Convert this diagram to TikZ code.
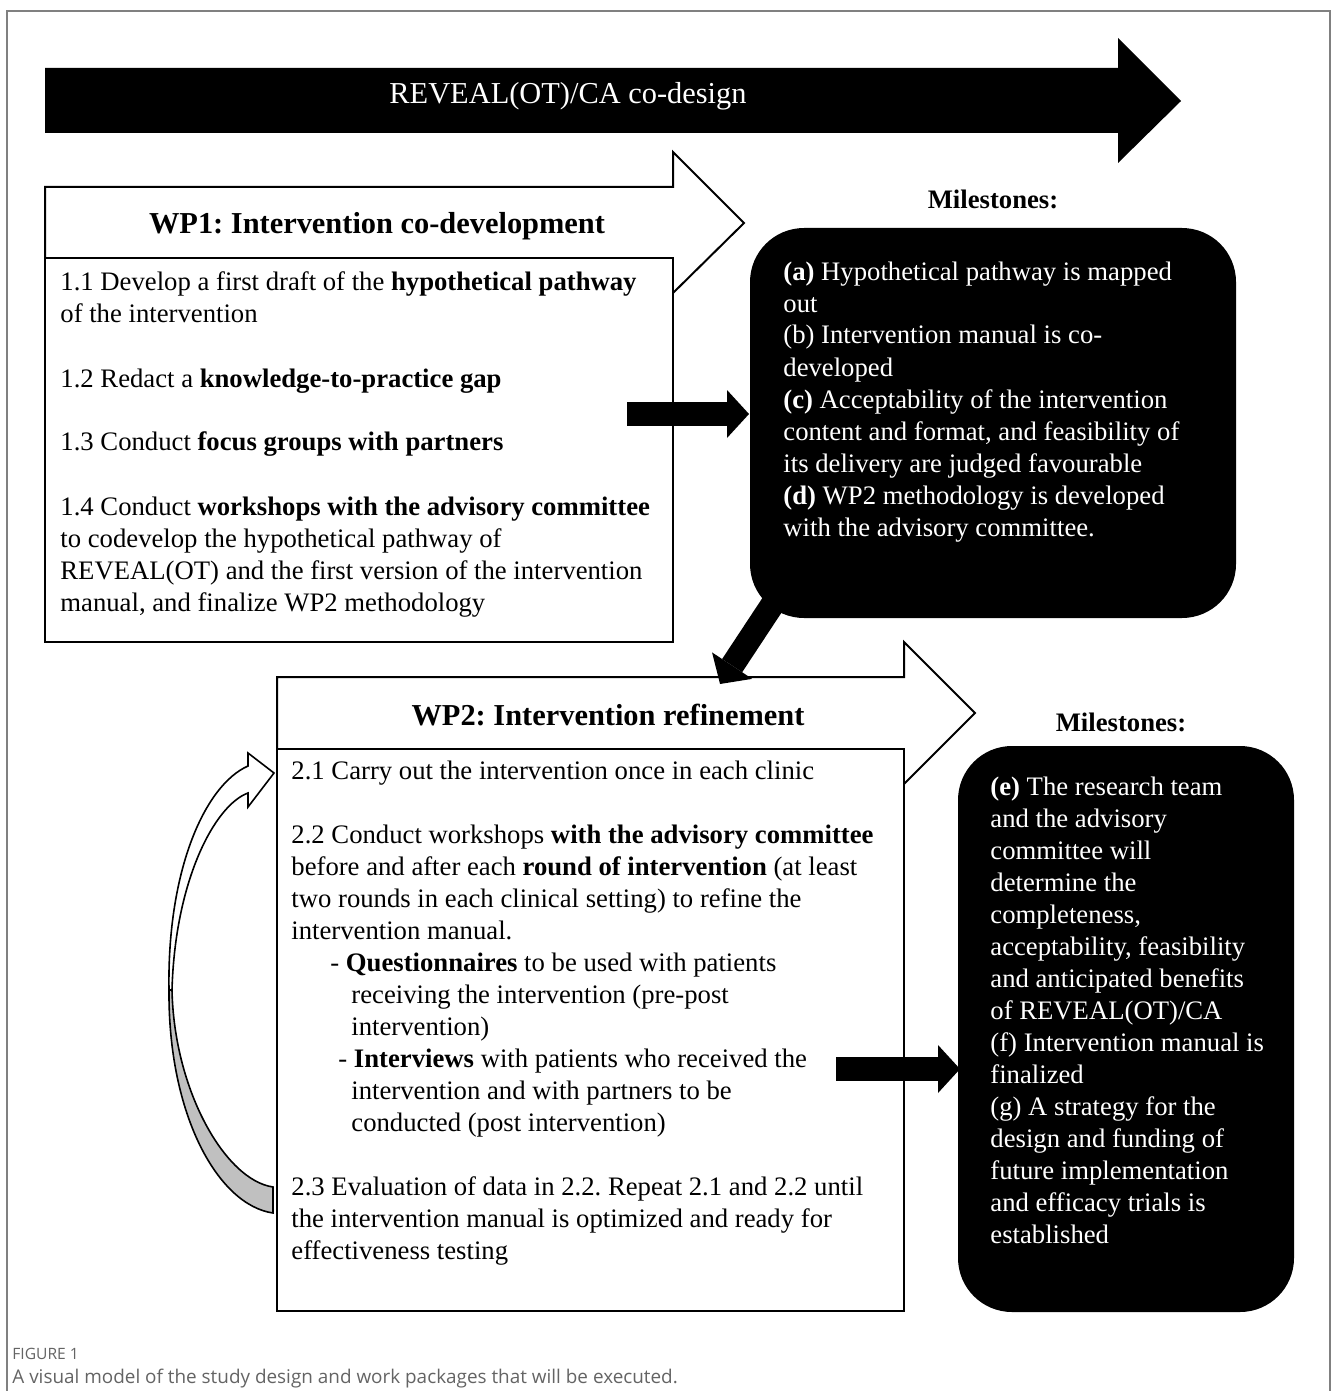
\documentclass[tikz,border=0pt]{standalone}
\usepackage{fontspec}
\setmainfont{Liberation Serif}
\newfontfamily\capfont{Open Sans}
\usetikzlibrary{arrows.meta}

\definecolor{framegray}{RGB}{128,128,128}
\definecolor{backside}{RGB}{192,192,192}
\definecolor{captext}{RGB}{100,100,100}

\begin{document}
\frenchspacing
\begin{tikzpicture}[x=0.5pt,y=-0.5pt,
	box/.style={draw,line width=1pt,fill=white,line join=miter},
	txt/.style={anchor=base west,inner sep=0pt,text width=#1,align=flush left,font=\fontsize{13.35}{16}\selectfont},
	title/.style={anchor=base,inner sep=0pt,font=\fontsize{15.2}{18}\selectfont\bfseries},
	stone/.style={fill=black,rounded corners=27pt},
	stonetxt/.style={txt=#1,text=white},
	stonehead/.style={anchor=base,inner sep=0pt,font=\fontsize{13.35}{16}\selectfont\bfseries},
	blockarrow/.style={line width=12pt,-{Triangle[length=11pt,width=24pt,line width=0pt]}}]
		\useasboundingbox (0,0) rectangle (1331,1391);
		%\draw [help lines] (0,0) grid (1331,1391);
		\draw [framegray,line width=1pt] (7,1391) -- (7,11) -- (1330,11) -- (1330,1391);
		
		% top arrow
		\fill (45,68) -- (1118,68) -- (1118,38) -- (1181,101) -- (1118,163) -- (1118,133) -- (45,133) -- cycle;
		\node [anchor=base,inner sep=0pt,text=white,font=\fontsize{15.2}{18}\selectfont] (codesign) at (568,104) {REVEAL(OT)/CA co-design};
		
		% WP1
		\draw [box] (45,258) -- (45,187) -- (673,187) -- (673,152) -- (744,223) -- (673,293);
		\draw [box] (45,258) rectangle (673,642);
		\node [title] (wp1) at (377,234) {WP1: Intervention co-development};
		\node [txt=310pt] (wp1txt) at (60,291) {1.1 Develop a first draft of the \textbf{hypothetical pathway}\\
			of the intervention\\[16pt]
			1.2 Redact a \textbf{knowledge-to-practice gap}\\[16pt]
			1.3 Conduct \textbf{focus groups with partners}\\[16pt]
			1.4 Conduct \textbf{workshops with the advisory committee}\\
			to codevelop the hypothetical pathway of\\
			REVEAL(OT) and the first version of the intervention\\
			manual, and finalize WP2 methodology};
		
		% milestones a-d
		\node [stonehead] (ms1) at (993,209) {Milestones:};
		\fill [stone] (750,228) rectangle (1236,618);
		\node [stonetxt=230pt] (ms1txt) at (783,280) {\textbf{(a)} Hypothetical pathway is mapped\\
			out\\
			(b) Intervention manual is co-\\
			developed\\
			\textbf{(c)} Acceptability of the intervention\\
			content and format, and feasibility of\\
			its delivery are judged favourable\\
			\textbf{(d)} WP2 methodology is developed\\
			with the advisory committee.};
		
		% WP2
		\draw [box] (277,749) -- (277,677) -- (904,677) -- (904,642) -- (975,713) -- (904,784);
		\draw [box] (277,749) rectangle (904,1311);
		\node [title] (wp2) at (608,725) {WP2: Intervention refinement};
		\node [txt=310pt] (wp2txt) at (291,779) {2.1 Carry out the intervention once in each clinic\\[16pt]
			2.2 Conduct workshops \textbf{with the advisory committee}\\
			before and after each \textbf{round of intervention} (at least\\
			two rounds in each clinical setting) to refine the\\
			intervention manual.\\
			\hspace*{19.5pt}- \textbf{Questionnaires} to be used with patients\\
			\hspace*{30pt}receiving the intervention (pre-post\\
			\hspace*{30pt}intervention)\\
			\hspace*{23.5pt}- \textbf{Interviews} with patients who received the\\
			\hspace*{30pt}intervention and with partners to be\\
			\hspace*{30pt}conducted (post intervention)\\[16pt]
			2.3 Evaluation of data in 2.2. Repeat 2.1 and 2.2 until\\
			the intervention manual is optimized and ready for\\
			effectiveness testing};
		
		% milestones e-g
		\node [stonehead] (ms2) at (1121,731) {Milestones:};
		\fill [stone] (958,746) rectangle (1294,1312);
		\node [stonetxt=160pt] (ms2txt) at (990,795) {\textbf{(e)} The research team\\
			and the advisory\\
			committee will\\
			determine the\\
			completeness,\\
			acceptability, feasibility\\
			and anticipated benefits\\
			of REVEAL(OT)/CA\\
			(f) Intervention manual is\\
			finalized\\
			(g) A strategy for the\\
			design and funding of\\
			future implementation\\
			and efficacy trials is\\
			established};
		
		% block arrows
		\coordinate (a1s) at (627,414);
		\coordinate (a1e) at (749,414);
		\coordinate (a2s) at (786,584);
		\coordinate (a2e) at (720,684);
		\coordinate (a3s) at (836,1069);
		\coordinate (a3e) at (960,1069);
		\draw [blockarrow] (a1s) -- (a1e);
		\draw [blockarrow] (a2s) -- (a2e);
		\draw [blockarrow] (a3s) -- (a3e);
		
		% loop back arrow
		\filldraw [fill=backside,line width=0.8pt] (273,1187) .. controls (225,1180) and (174,1090) .. (172,990) -- (169,990) .. controls (168,1115) and (218,1205) .. (273,1213) -- cycle;
		\filldraw [fill=white,line width=0.8pt] (169,990) .. controls (167,870) and (205,785) .. (248,766) -- (248,753) -- (274,773) -- (248,807) -- (248,793) .. controls (215,805) and (175,880) .. (172,990) -- cycle;
		
		% caption
		\node [anchor=base west,inner sep=0pt,text=captext,font=\capfont\fontsize{7.8}{9}\selectfont] (fig) at (12,1359) {FIGURE 1};
		\node [anchor=base west,inner sep=0pt,text=captext,font=\capfont\fontsize{9.45}{11}\selectfont] (cap) at (12,1383) {A visual model of the study design and work packages that will be executed.};
\end{tikzpicture}
\end{document}
